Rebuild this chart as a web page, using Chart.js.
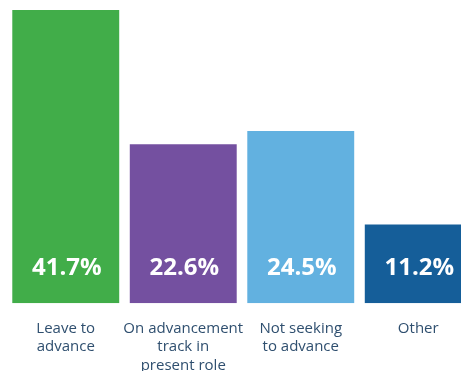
<!DOCTYPE html>
<html>
<head>
<meta charset="utf-8">
<script src="https://cdn.jsdelivr.net/npm/chart.js@4"></script>
<style>
  html, body { margin: 0; padding: 0; background: #fff; overflow: hidden; }
</style>
</head>
<body>
<canvas id="barChart" width="477" height="383"></canvas>
<script>
const categories = [
    ['Leave to', 'advance'],
    ['On advancement', 'track in', 'present role'],
    ['Not seeking', 'to advance'],
    ['Other']
];
const shares = [41.7, 22.6, 24.5, 11.2];
const barColors = ['#41ad49', '#7450a0', '#62b1e0', '#155e99'];

// white value text near the bottom of each bar
const valueLabels = {
    id: 'valueLabels',
    afterDatasetsDraw(chart) {
        const ctx = chart.ctx;
        const meta = chart.getDatasetMeta(0);
        ctx.save();
        ctx.fillStyle = '#ffffff';
        ctx.font = 'bold 24px "Open Sans"';
        ctx.textAlign = 'center';
        ctx.textBaseline = 'middle';
        meta.data.forEach((bar, i) => {
            ctx.fillText(shares[i].toFixed(1) + '%', bar.x + 1, bar.base - 35);
        });
        ctx.restore();
    }
};

new Chart(document.getElementById('barChart').getContext('2d'), {
    type: 'bar',
    data: {
        labels: categories,
        datasets: [{ data: shares, backgroundColor: barColors, borderWidth: 0, barPercentage: 0.91, categoryPercentage: 1 }]
    },
    options: {
        responsive: false,
        animation: false,
        layout: { padding: { left: 7, right: 0, top: 10, bottom: 0 } },
        plugins: { legend: { display: false }, tooltip: { enabled: false } },
        scales: {
            x: {
                grid: { display: false },
                border: { display: false },
                ticks: { color: '#2f4f6f', font: { family: '"Open Sans"', size: 15, lineHeight: 1.24 }, padding: 8, maxRotation: 0, autoSkip: false }
            },
            y: { display: false, min: 0, max: 41.7 }
        }
    },
    plugins: [valueLabels]
});
</script>
</body>
</html>
